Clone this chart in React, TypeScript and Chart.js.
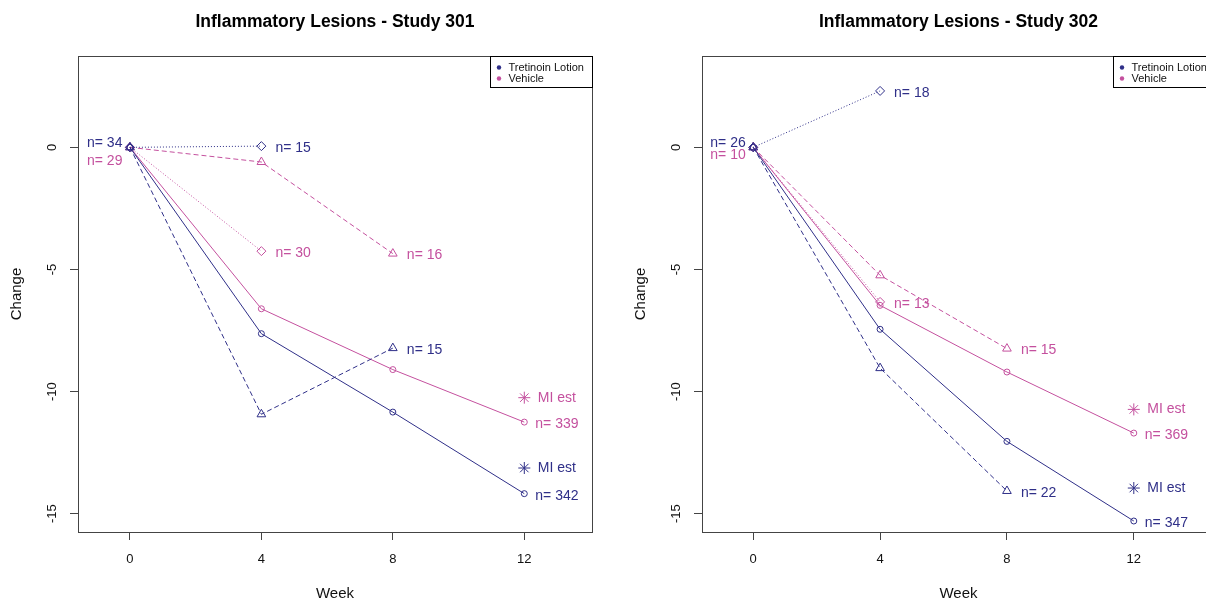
import React, { useEffect, useRef } from "react";
import { Chart, registerables } from "chart.js";
Chart.register(...registerables);

// ---------- data ----------
const weeks = [0, 4, 8, 12];
const xTickValues = [0, 4, 8, 12];
const yTickValues = [0, -5, -10, -15];

// Study 301
const s301TretAll = [0, -7.63, -10.84, -14.18];
const s301TretDash = [0, -10.93, -8.22];
const s301TretDot = [0, 0.05];
const s301TretMI = [-13.13];
const s301TretN = [34, 342, 15, 15]; // baseline, all, dashed, dotted
const s301VehAll = [0, -6.61, -9.1, -11.25];
const s301VehDash = [0, -0.6, -4.35];
const s301VehDot = [0, -4.25];
const s301VehMI = [-10.25];
const s301VehN = [29, 339, 16, 30];

// Study 302
const s302TretAll = [0, -7.45, -12.04, -15.3];
const s302TretDash = [0, -9.04, -14.07];
const s302TretDot = [0, 2.31];
const s302TretMI = [-13.95];
const s302TretN = [26, 347, 22, 18];
const s302VehAll = [0, -6.47, -9.2, -11.7];
const s302VehDash = [0, -5.24, -8.24];
const s302VehDot = [0, -6.33];
const s302VehMI = [-10.73];
const s302VehN = [10, 369, 15, 13];

const legendLabels = ["Tretinoin Lotion", "Vehicle"];

// ---------- style ----------
const BLUE = "#2F2F88";
const PINK = "#C4509E";
const AXIS = "#444444";
const FONT = "'Liberation Sans', Arial, Helvetica, sans-serif";

type Group = {
  all: number[];
  dash: number[];
  dot: number[];
  mi: number[];
  n: number[];
  color: string;
  baseDy: number;
};

type PanelCfg = {
  title: string;
  groups: Group[];
  canvasLeft: number;
  canvasWidth: number;
  plotLeft: number;
  plotRight: number;
  xMin: number;
  xMax: number;
};

const yMin = -15.75;
const yMax = 3.74;

const panels: PanelCfg[] = [
  {
    title: "Inflammatory Lesions - Study 301",
    groups: [
      { all: s301TretAll, dash: s301TretDash, dot: s301TretDot, mi: s301TretMI, n: s301TretN, color: BLUE, baseDy: -4 },
      { all: s301VehAll, dash: s301VehDash, dot: s301VehDot, mi: s301VehMI, n: s301VehN, color: PINK, baseDy: 14 },
    ],
    canvasLeft: 0,
    canvasWidth: 603,
    plotLeft: 78,
    plotRight: 592,
    xMin: -1.58,
    xMax: 14.06,
  },
  {
    title: "Inflammatory Lesions - Study 302",
    groups: [
      { all: s302TretAll, dash: s302TretDash, dot: s302TretDot, mi: s302TretMI, n: s302TretN, color: BLUE, baseDy: -4 },
      { all: s302VehAll, dash: s302VehDash, dot: s302VehDot, mi: s302VehMI, n: s302VehN, color: PINK, baseDy: 8 },
    ],
    canvasLeft: 603,
    canvasWidth: 640,
    plotLeft: 99,
    plotRight: 612,
    xMin: -1.615,
    xMax: 14.56,
  },
];

const toPts = (ys: number[]) => ys.map((y, i) => ({ x: weeks[i], y }));

function buildDatasets(p: PanelCfg) {
  const ds: any[] = [];
  p.groups.forEach((g, gi) => {
    const base = {
      borderColor: g.color,
      pointBorderColor: g.color,
      pointBackgroundColor: "rgba(0,0,0,0)",
      borderWidth: 1,
      pointBorderWidth: 1,
      fill: false,
      tension: 0,
      showLine: true,
    };
    ds.push({ ...base, label: `g${gi}-all`, data: toPts(g.all), pointStyle: "circle", pointRadius: 3, _kind: "all", _g: gi });
    ds.push({ ...base, label: `g${gi}-dash`, data: toPts(g.dash), borderDash: [5, 3], pointStyle: "triangle", pointRadius: 5, _kind: "dash", _g: gi });
    ds.push({ ...base, label: `g${gi}-dot`, data: toPts(g.dot), borderDash: [1, 2], pointStyle: "rectRot", pointRadius: 4.5, _kind: "dot", _g: gi });
    ds.push({ ...base, label: `g${gi}-mi`, data: g.mi.map((y) => ({ x: 12, y })), showLine: false, pointStyle: "star", pointRadius: 6, _kind: "mi", _g: gi });
  });
  return ds;
}

function makeDecor(p: PanelCfg) {
  return {
    id: "decor",
    afterDatasetsDraw(chart: any) {
      const ctx = chart.ctx as CanvasRenderingContext2D;
      const xs = chart.scales.x;
      const ys = chart.scales.y;
      const ca = chart.chartArea;
      ctx.save();

      // n labels and MI labels
      ctx.font = `14px ${FONT}`;
      ctx.textBaseline = "middle";
      chart.data.datasets.forEach((d: any, di: number) => {
        const g = p.groups[d._g];
        const meta = chart.getDatasetMeta(di);
        const pts = meta.data;
        const last = pts[pts.length - 1];
        ctx.fillStyle = g.color;
        ctx.textAlign = "left";
        if (d._kind === "mi") {
          ctx.fillText("MI est", last.x + 13.5, last.y);
          return;
        }
        const nVal = d._kind === "all" ? g.n[1] : d._kind === "dash" ? g.n[2] : g.n[3];
        const dx = d._kind === "all" ? 11 : 14;
        ctx.fillText(`n= ${nVal}`, last.x + dx, last.y + 2);
        if (d._kind === "all") {
          const first = pts[0];
          ctx.textAlign = "right";
          ctx.fillText(`n= ${g.n[0]}`, first.x - 7.5, first.y + g.baseDy);
        }
      });

      // plot box
      ctx.strokeStyle = AXIS;
      ctx.lineWidth = 1;
      const L = Math.round(ca.left) + 0.5;
      const T = Math.round(ca.top) + 0.5;
      const R = Math.round(ca.right) + 0.5;
      const B = Math.round(ca.bottom) + 0.5;
      ctx.strokeRect(L, T, R - L, B - T);

      // legend
      const lw = 102;
      const lh = 31;
      const lx = Math.round(ca.right - lw) + 0.5;
      ctx.fillStyle = "#ffffff";
      ctx.fillRect(lx, T, R - lx, lh);
      ctx.strokeStyle = "#000000";
      ctx.strokeRect(lx, T, R - lx, lh);
      ctx.font = `11px ${FONT}`;
      ctx.textAlign = "left";
      ctx.textBaseline = "middle";
      legendLabels.forEach((lab, i) => {
        const cy = T + 11 + i * 11;
        ctx.fillStyle = p.groups[i].color;
        ctx.beginPath();
        ctx.arc(lx + 8.5, cy, 2.2, 0, Math.PI * 2);
        ctx.fill();
        ctx.fillStyle = "#111111";
        ctx.fillText(lab, lx + 18, cy);
      });

      // tick labels
      ctx.fillStyle = "#111111";
      ctx.font = `13px ${FONT}`;
      ctx.textAlign = "center";
      ctx.textBaseline = "middle";
      xTickValues.forEach((v) => {
        ctx.fillText(String(v), xs.getPixelForValue(v), 559);
      });
      yTickValues.forEach((v) => {
        ctx.save();
        ctx.translate(ca.left - 26, ys.getPixelForValue(v));
        ctx.rotate(-Math.PI / 2);
        ctx.fillText(String(v), 0, 0);
        ctx.restore();
      });

      // axis titles
      ctx.font = `15px ${FONT}`;
      ctx.fillText("Week", (ca.left + ca.right) / 2, 594);
      ctx.save();
      ctx.translate(ca.left - 61, (ca.top + ca.bottom) / 2);
      ctx.rotate(-Math.PI / 2);
      ctx.fillText("Change", 0, 0);
      ctx.restore();

      // title
      ctx.font = `bold 17.5px ${FONT}`;
      ctx.fillStyle = "#000000";
      ctx.fillText(p.title, (ca.left + ca.right) / 2, 22);

      ctx.restore();
    },
  };
}

function Panel({ p }: { p: PanelCfg }) {
  const ref = useRef<HTMLCanvasElement | null>(null);
  useEffect(() => {
    if (!ref.current) return;
    const chart = new Chart(ref.current, {
      type: "line",
      data: { datasets: buildDatasets(p) },
      options: {
        responsive: false,
        animation: false,
        devicePixelRatio: 1,
        layout: { padding: { top: 56, right: p.canvasWidth - p.plotRight, left: 0, bottom: 0 } },
        plugins: { legend: { display: false }, tooltip: { enabled: false }, title: { display: false } },
        scales: {
          x: {
            type: "linear",
            min: p.xMin,
            max: p.xMax,
            afterBuildTicks: (s: any) => {
              s.ticks = xTickValues.map((v) => ({ value: v }));
            },
            afterFit: (s: any) => {
              s.height = 68;
            },
            ticks: { display: false },
            grid: { display: true, drawOnChartArea: false, drawTicks: true, tickLength: 8, color: AXIS, lineWidth: 1 },
            border: { display: true, color: AXIS, width: 1 },
          },
          y: {
            type: "linear",
            min: yMin,
            max: yMax,
            afterBuildTicks: (s: any) => {
              s.ticks = yTickValues.map((v) => ({ value: v }));
            },
            afterFit: (s: any) => {
              s.width = p.plotLeft;
            },
            ticks: { display: false },
            grid: { display: true, drawOnChartArea: false, drawTicks: true, tickLength: 8, color: AXIS, lineWidth: 1 },
            border: { display: true, color: AXIS, width: 1 },
          },
        },
      } as any,
      plugins: [makeDecor(p)],
    });
    return () => chart.destroy();
  }, [p]);
  return (
    <canvas
      ref={ref}
      width={p.canvasWidth}
      height={600}
      style={{ position: "absolute", left: p.canvasLeft, top: 0, width: p.canvasWidth, height: 600 }}
    />
  );
}

export default function App() {
  return (
    <div
      style={{
        position: "fixed",
        left: 0,
        top: 0,
        width: 1206,
        height: 600,
        overflow: "hidden",
        background: "#ffffff",
      }}
    >
      {panels.map((p, i) => (
        <Panel key={i} p={p} />
      ))}
    </div>
  );
}
